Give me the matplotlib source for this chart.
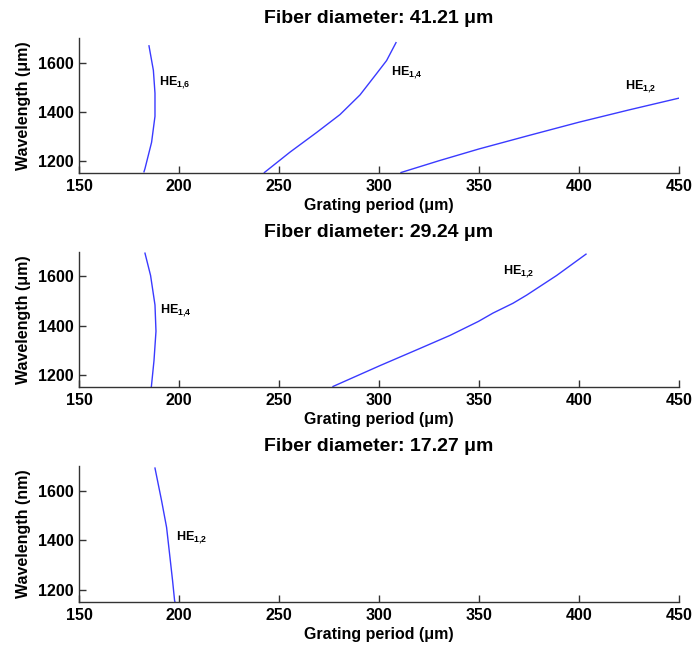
import matplotlib
matplotlib.use("Agg")
import matplotlib.pyplot as plt

plt.rcParams['font.family'] = ['Liberation Sans', 'DejaVu Sans']
plt.rcParams['mathtext.fontset'] = 'custom'
plt.rcParams['mathtext.rm'] = 'Liberation Sans'
plt.rcParams['mathtext.bf'] = 'Liberation Sans:bold'
plt.rcParams['mathtext.it'] = 'Liberation Sans:italic'

# Phase-matching curves: grating period (um) vs resonance wavelength (nm)
# Fiber diameter 41.21 um
d41_he16_period = [182.5, 183.0, 186.3, 188.0, 188.0, 187.2, 185.0]
d41_he16_wl = [1155, 1168, 1275, 1381, 1475, 1568, 1668]
d41_he14_period = [242.7, 255.5, 268.8, 280.5, 290.5, 298.8, 303.8, 308.5]
d41_he14_wl = [1152, 1235, 1315, 1388, 1468, 1555, 1608, 1681]
d41_he12_period = [311, 330, 350, 375, 400, 425, 450]
d41_he12_wl = [1152, 1200, 1248, 1303, 1357, 1407, 1455]

# Fiber diameter 29.24 um
d29_he14_period = [186.2, 187.5, 188.5, 188.0, 185.8, 183.0]
d29_he14_wl = [1152, 1257, 1377, 1484, 1604, 1695]
d29_he12_period = [277.0, 300.5, 320.5, 335.5, 349.7, 357.0, 367.0, 373.8,
                   388.8, 403.5]
d29_he12_wl = [1152, 1237, 1307, 1360, 1417, 1451, 1491, 1524, 1604, 1691]

# Fiber diameter 17.27 um
d17_he12_period = [188.0, 191.3, 193.8, 195.5, 196.8, 197.8, 198.0]
d17_he12_wl = [1692, 1560, 1452, 1330, 1236, 1156, 1150]

titles = ['Fiber diameter: 41.21 \u03bcm', 'Fiber diameter: 29.24 \u03bcm',
          'Fiber diameter: 17.27 \u03bcm']
ylabels = ['Wavelength (\u03bcm)', 'Wavelength (\u03bcm)', 'Wavelength (nm)']
xlabel = 'Grating period (\u03bcm)'
xticks = [150, 200, 250, 300, 350, 400, 450]
yticks = [1200, 1400, 1600]

panels = [
    [(d41_he16_period, d41_he16_wl, '1{,}6', (190, 1520)),
     (d41_he14_period, d41_he14_wl, '1{,}4', (306, 1560)),
     (d41_he12_period, d41_he12_wl, '1{,}2', (423, 1500))],
    [(d29_he14_period, d29_he14_wl, '1{,}4', (190.5, 1460)),
     (d29_he12_period, d29_he12_wl, '1{,}2', (362, 1620))],
    [(d17_he12_period, d17_he12_wl, '1{,}2', (198.5, 1410))],
]

fig = plt.figure(figsize=(6.94, 6.47), dpi=100)
rects = [
    [0.1138, 0.7326, 0.8646, 0.2087],
    [0.1138, 0.4019, 0.8646, 0.2087],
    [0.1138, 0.0696, 0.8646, 0.2100],
]

for rect, curves, title, ylab in zip(rects, panels, titles, ylabels):
    ax = fig.add_axes(rect)
    for per, wl, mode, (lx, ly) in curves:
        ax.plot(per, wl, color='#3a3aff', lw=1.0, solid_joinstyle='round')
        ax.text(lx, ly, r'$\mathbf{HE}_{\mathbf{%s}}$' % mode, fontsize=9,
                ha='left', va='center')
    ax.set_xlim(150, 450)
    ax.set_ylim(1150, 1700)
    ax.set_xticks(xticks)
    ax.set_yticks(yticks)
    ax.spines['top'].set_visible(False)
    ax.spines['right'].set_visible(False)
    for s in ('left', 'bottom'):
        ax.spines[s].set_linewidth(1.0)
        ax.spines[s].set_color('#333333')
    ax.tick_params(direction='in', length=5, width=1, color='#333333',
                   labelsize=11.5, pad=4)
    for lab in ax.get_xticklabels() + ax.get_yticklabels():
        lab.set_fontweight('bold')
    ax.set_title(title, fontsize=14, fontweight='bold', pad=11)
    ax.set_xlabel(xlabel, fontsize=11.5, fontweight='bold', labelpad=3)
    ax.set_ylabel(ylab, fontsize=11.5, fontweight='bold', labelpad=5)

fig.savefig('out.png', dpi=100)
